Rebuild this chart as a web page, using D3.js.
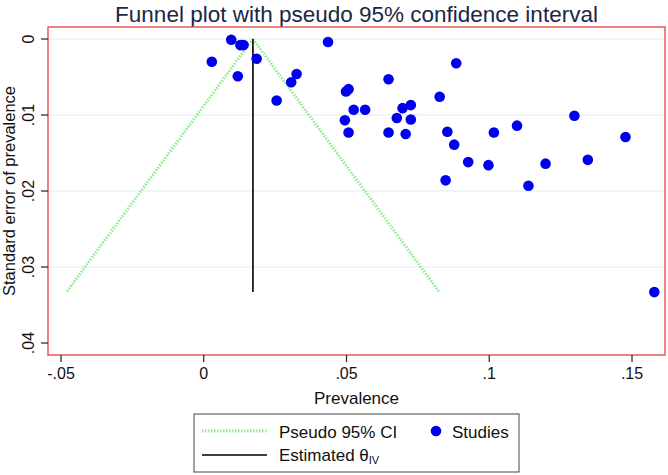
<!DOCTYPE html>
<html><head><meta charset="utf-8">
<script src="https://cdn.jsdelivr.net/npm/d3@7"></script>
<style>body{margin:0;background:#fff;} svg{display:block;font-family:"Liberation Sans",Arial,sans-serif;}</style>
</head><body>
<script>
const prevalence = [0.0030,0.0098,0.0130,0.0141,0.0121,0.0187,0.0257,0.0308,0.0327,0.0437,
  0.0500,0.0509,0.0496,0.0509,0.0527,0.0567,0.0649,0.0649,0.0678,0.0698,
  0.0727,0.0727,0.0709,0.0828,0.0855,0.0879,0.0849,0.0886,0.0928,0.0999,
  0.1018,0.1099,0.1139,0.1199,0.1300,0.1347,0.1479,0.1580];
const stdError = [0.0030,0.0001,0.0008,0.0008,0.0049,0.0026,0.0081,0.0057,0.0046,0.0004,
  0.0069,0.0066,0.0107,0.0123,0.0093,0.0093,0.0053,0.0123,0.0104,0.0091,
  0.0087,0.0106,0.0125,0.0076,0.0122,0.0139,0.0186,0.0032,0.0162,0.0166,
  0.0123,0.0114,0.0193,0.0164,0.0101,0.0159,0.0129,0.0333];
const thetaIV = 0.0174;
const maxSE = 0.0333;
const xTicks = [-0.05,0,0.05,0.1,0.15];
const xTickLabels = ["-.05","0",".05",".1",".15"];
const yTicks = [0,0.01,0.02,0.03,0.04];
const yTickLabels = ["0",".01",".02",".03",".04"];

const W=668,H=475;
const svg=d3.select("body").append("svg").attr("width",W).attr("height",H);
const L=48,R=665,T=27,B=355;
const cx=(L+R)/2;
const x=d3.scaleLinear().domain([-0.05,0.15]).range([60.5,631.5]);
const y=d3.scaleLinear().domain([0,0.04]).range([39,343]);

svg.append("text").attr("x",cx).attr("y",22).attr("text-anchor","middle")
  .attr("font-size",22.5).attr("fill","#1a2744").text("Funnel plot with pseudo 95% confidence interval");

// gridlines
svg.append("g").selectAll("line").data(yTicks.slice(0,4)).join("line")
  .attr("x1",L).attr("x2",R).attr("y1",d=>y(d)).attr("y2",d=>y(d))
  .attr("stroke","#e4ecf2").attr("stroke-width",1.2);

// funnel
const green="#8eec8e";
svg.append("line").attr("x1",x(thetaIV)).attr("y1",y(0)).attr("x2",x(thetaIV-1.96*maxSE)).attr("y2",y(maxSE))
  .attr("stroke",green).attr("stroke-width",3).attr("stroke-dasharray","1.5,1.5");
svg.append("line").attr("x1",x(thetaIV)).attr("y1",y(0)).attr("x2",x(thetaIV+1.96*maxSE)).attr("y2",y(maxSE))
  .attr("stroke",green).attr("stroke-width",3).attr("stroke-dasharray","1.5,1.5");
svg.append("line").attr("x1",x(thetaIV)).attr("x2",x(thetaIV)).attr("y1",y(0)).attr("y2",y(maxSE))
  .attr("stroke","#000").attr("stroke-width",1.6);

// points
svg.append("g").selectAll("circle").data(prevalence).join("circle")
  .attr("cx",d=>x(d)).attr("cy",(d,i)=>y(stdError[i])).attr("r",5.3).attr("fill","#0000ee");

// border
svg.append("rect").attr("x",L).attr("y",T).attr("width",R-L).attr("height",B-T)
  .attr("fill","none").attr("stroke","#e8585a").attr("stroke-width",1.5);

// x axis
const xa=svg.append("g").attr("transform",`translate(0,${B})`)
  .call(d3.axisBottom(x).tickValues(xTicks).tickFormat((d,i)=>xTickLabels[i]).tickSize(7).tickPadding(6));
xa.select(".domain").remove();
xa.selectAll("line").attr("stroke","#222").attr("stroke-width",1.2);
xa.selectAll("text").attr("font-size",16).attr("fill","#111").attr("font-family","Liberation Sans, Arial, sans-serif");
svg.append("text").attr("x",cx).attr("y",404).attr("text-anchor","middle").attr("font-size",17).attr("fill","#111").text("Prevalence");

// y axis
const ya=svg.append("g").attr("transform",`translate(${L},0)`)
  .call(d3.axisLeft(y).tickValues(yTicks).tickFormat((d,i)=>yTickLabels[i]).tickSize(7).tickPadding(4));
ya.select(".domain").remove();
ya.selectAll("line").attr("stroke","#222").attr("stroke-width",1.2);
ya.selectAll(".tick").attr("transform",null);
ya.selectAll(".tick line").attr("y1",d=>y(d)).attr("y2",d=>y(d));
ya.selectAll(".tick text").attr("font-size",16).attr("fill","#111").attr("font-family","Liberation Sans, Arial, sans-serif")
  .attr("text-anchor","middle").attr("x",null).attr("y",null).attr("dy",null)
  .attr("transform",d=>`translate(-14,${y(d)}) rotate(-90)`);
svg.append("text").attr("transform",`translate(15,${(T+B)/2}) rotate(-90)`).attr("text-anchor","middle")
  .attr("font-size",16.5).attr("fill","#111").text("Standard error of prevalence");

// legend
const lg=svg.append("g");
lg.append("rect").attr("x",194).attr("y",414).attr("width",325).attr("height",58).attr("fill","#fff").attr("stroke","#444").attr("stroke-width",1);
lg.append("line").attr("x1",202).attr("x2",267).attr("y1",431).attr("y2",431).attr("stroke",green).attr("stroke-width",3).attr("stroke-dasharray","1.5,1.5");
lg.append("text").attr("x",279).attr("y",438).attr("font-size",17).attr("fill","#111").text("Pseudo 95% CI");
lg.append("circle").attr("cx",436).attr("cy",431).attr("r",5.3).attr("fill","#0000ee");
lg.append("text").attr("x",452).attr("y",438).attr("font-size",17).attr("fill","#111").text("Studies");
lg.append("line").attr("x1",202).attr("x2",267).attr("y1",455).attr("y2",455).attr("stroke","#000").attr("stroke-width",1.5);
const t2=lg.append("text").attr("x",279).attr("y",461).attr("font-size",17).attr("fill","#111");
t2.append("tspan").text("Estimated θ");
t2.append("tspan").attr("font-size",11).attr("dy",3).text("IV");
</script>
</body></html>
